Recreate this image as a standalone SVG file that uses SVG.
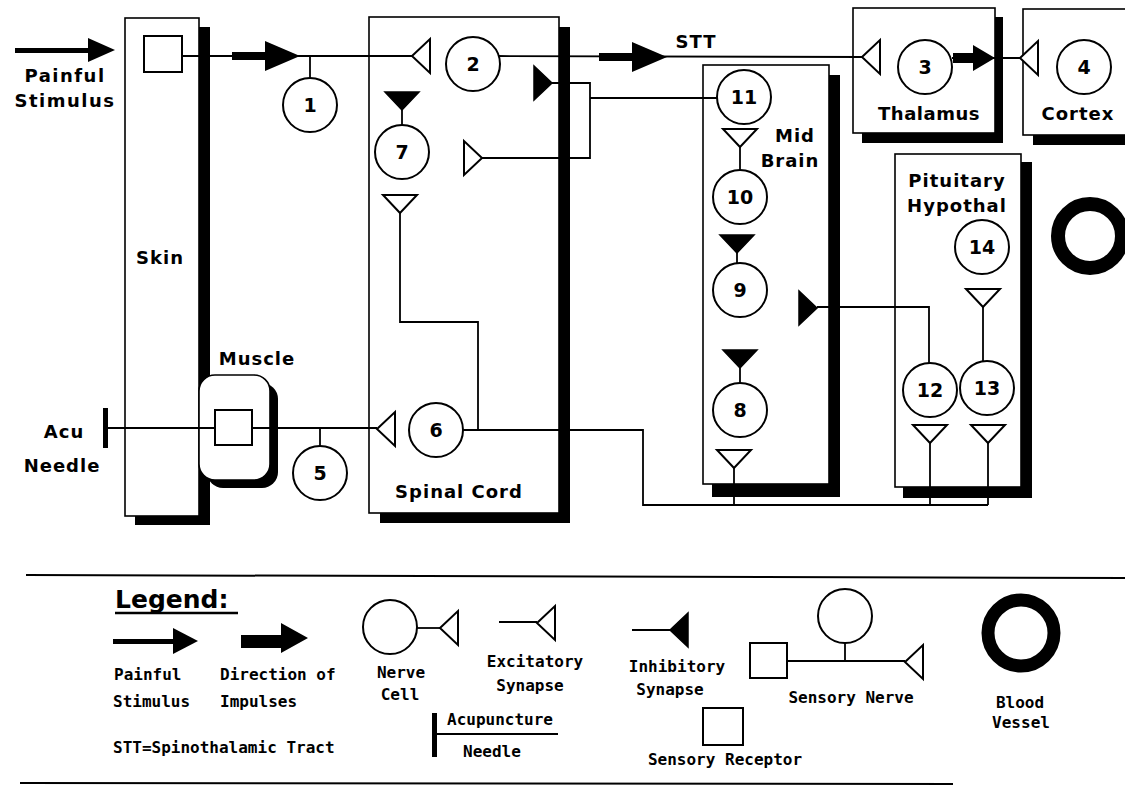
<svg xmlns="http://www.w3.org/2000/svg" width="1125" height="788" viewBox="0 0 1125 788">
<style>
.box{fill:#fff;stroke:#000;stroke-width:1.6}
.sh{fill:#000}
.ln{fill:none;stroke:#000;stroke-width:1.8}
.cell{fill:#fff;stroke:#000;stroke-width:2}
.ex{fill:#fff;stroke:#000;stroke-width:2;stroke-linejoin:miter}
.inh{fill:#000;stroke:#000;stroke-width:1.5}
.blk{fill:#000}
.lbl{font-family:"DejaVu Sans",sans-serif;font-weight:bold;font-size:18px;letter-spacing:1px;text-anchor:middle;fill:#000}
.num{font-family:"DejaVu Sans",sans-serif;font-weight:bold;font-size:19px;text-anchor:middle;fill:#000}
.lg{font-family:"DejaVu Sans Mono","Liberation Mono",monospace;font-weight:bold;font-size:16px;fill:#000}
.mid{text-anchor:middle}
</style>
<defs>
<path id="ex" d="M0,0 L18,-17 L18,17 Z"/>
<path id="thick" d="M-68,-4 L-35,-4 L-35,-15 L0,0 L-35,15 L-35,4 L-68,4 Z"/>
</defs>

<!-- regions -->
<g id="skin">
<rect class="sh" x="135" y="27" width="75" height="498"/>
<rect class="box" x="125" y="18" width="74" height="498"/>
<text class="lbl" x="160" y="264">Skin</text>
</g>
<g id="muscle">
<rect class="sh" x="207" y="383" width="71" height="105" rx="16"/>
<rect class="box" x="199" y="375" width="71" height="105" rx="16"/>
<text class="lbl" x="257" y="365">Muscle</text>
</g>
<g id="spinal-cord">
<rect class="sh" x="380" y="27" width="190" height="496"/>
<rect class="box" x="369" y="17" width="190" height="496"/>
<text class="lbl" x="459" y="498">Spinal Cord</text>
</g>
<g id="mid-brain">
<rect class="sh" x="712" y="75" width="128" height="422"/>
<rect class="box" x="703" y="65" width="126" height="419"/>
<text class="lbl" x="795" y="142">Mid</text>
<text class="lbl" x="790" y="167">Brain</text>
</g>
<g id="thalamus">
<rect class="sh" x="862" y="17" width="141" height="126"/>
<rect class="box" x="853" y="8" width="142" height="125"/>
<text class="lbl" x="929" y="120" style="letter-spacing:0.5px">Thalamus</text>
</g>
<g id="cortex">
<rect class="sh" x="1033" y="19" width="120" height="126"/>
<rect class="box" x="1023" y="9" width="120" height="126"/>
<text class="lbl" x="1078" y="120">Cortex</text>
</g>
<g id="pituitary-hypothal">
<rect class="sh" x="903" y="162" width="129" height="336"/>
<rect class="box" x="895" y="154" width="126" height="333"/>
<text class="lbl" x="957" y="187">Pituitary</text>
<text class="lbl" x="957" y="212">Hypothal</text>
</g>

<!-- connectors -->
<g id="connectors">
<!-- painful stimulus input -->
<rect class="blk" x="15" y="48" width="76" height="5"/>
<path class="blk" d="M88,38 L115,50 L88,62 Z"/>
<!-- receptor to spinal cord -->
<line class="ln" x1="182" y1="56" x2="412" y2="56"/>
<line class="ln" x1="310" y1="56" x2="310" y2="78"/>
<use href="#thick" class="blk" transform="translate(300,56)"/>
<use href="#ex" class="ex" transform="translate(412,56)"/>
<!-- STT -->
<line class="ln" x1="498" y1="56" x2="862" y2="57"/>
<use href="#thick" class="blk" transform="translate(667,57)"/>
<use href="#ex" class="ex" transform="translate(862,57)"/>
<!-- thalamus to cortex -->
<line class="ln" x1="952" y1="58" x2="1020" y2="58"/>
<path class="blk" d="M953,53 L973,53 L973,45 L995,58 L973,71 L973,63 L953,63 Z"/>
<use href="#ex" class="ex" transform="translate(1020,58)"/>
<!-- node 11 descending to spinal cord -->
<polyline class="ln" points="717,98 590,98"/>
<polyline class="ln" points="552,83 590,83 590,158 482,158"/>
<use href="#ex" class="inh" transform="translate(552,83) scale(-1,1)"/>
<use href="#ex" class="ex" transform="translate(482,158) scale(-1,1)"/>
<!-- node 7 -->
<use href="#ex" class="inh" transform="translate(402,110) rotate(-90)"/>
<line class="ln" x1="402" y1="110" x2="402" y2="125"/>
<use href="#ex" class="ex" transform="translate(400,213) rotate(-90)"/>
<polyline class="ln" points="400,213 400,322 478,322 478,430"/>
<!-- acupuncture needle -->
<rect class="blk" x="103" y="408" width="5" height="40"/>
<line class="ln" x1="106" y1="428" x2="233" y2="428"/>
<line class="ln" x1="252" y1="428" x2="377" y2="428"/>
<line class="ln" x1="320" y1="428" x2="320" y2="446"/>
<use href="#ex" class="ex" transform="translate(377,429)"/>
<!-- node 6 ascending -->
<polyline class="ln" points="463,430 643,430 643,505 988,505"/>
<line class="ln" x1="734" y1="468" x2="734" y2="505"/>
<line class="ln" x1="930" y1="443" x2="930" y2="505"/>
<line class="ln" x1="988" y1="443" x2="988" y2="505"/>
<use href="#ex" class="ex" transform="translate(734,468) rotate(-90)"/>
<use href="#ex" class="ex" transform="translate(930,443) rotate(-90)"/>
<use href="#ex" class="ex" transform="translate(988,443) rotate(-90)"/>
<!-- midbrain chain -->
<use href="#ex" class="ex" transform="translate(740,147) rotate(-90)"/>
<line class="ln" x1="740" y1="147" x2="740" y2="170"/>
<use href="#ex" class="inh" transform="translate(737,253) rotate(-90)"/>
<line class="ln" x1="737" y1="253" x2="737" y2="263"/>
<use href="#ex" class="inh" transform="translate(740,368) rotate(-90)"/>
<line class="ln" x1="740" y1="368" x2="740" y2="383"/>
<!-- midbrain to pituitary node 12 -->
<polyline class="ln" points="817,307 929,307 929,363"/>
<use href="#ex" class="inh" transform="translate(817,308) scale(-1,1)"/>
<!-- node 14 to 13 -->
<use href="#ex" class="ex" transform="translate(983,307) rotate(-90)"/>
<line class="ln" x1="983" y1="307" x2="983" y2="361"/>
</g>

<!-- nerve cells -->
<g id="n1"><circle class="cell" cx="310" cy="105" r="27"/><text class="num" x="310" y="112">1</text></g>
<g id="n2"><circle class="cell" cx="473" cy="64" r="27"/><text class="num" x="473" y="71">2</text></g>
<g id="n3"><circle class="cell" cx="925" cy="67" r="27"/><text class="num" x="925" y="74">3</text></g>
<g id="n4"><circle class="cell" cx="1084" cy="67" r="27"/><text class="num" x="1084" y="74">4</text></g>
<g id="n5"><circle class="cell" cx="320" cy="473" r="27"/><text class="num" x="320" y="480">5</text></g>
<g id="n6"><circle class="cell" cx="436" cy="430" r="27"/><text class="num" x="436" y="437">6</text></g>
<g id="n7"><circle class="cell" cx="402" cy="152" r="27"/><text class="num" x="402" y="159">7</text></g>
<g id="n8"><circle class="cell" cx="740" cy="410" r="27"/><text class="num" x="740" y="417">8</text></g>
<g id="n9"><circle class="cell" cx="740" cy="290" r="27"/><text class="num" x="740" y="297">9</text></g>
<g id="n10"><circle class="cell" cx="740" cy="197" r="27"/><text class="num" x="740" y="204">10</text></g>
<g id="n11"><circle class="cell" cx="744" cy="97" r="27"/><text class="num" x="744" y="104">11</text></g>
<g id="n12"><circle class="cell" cx="930" cy="390" r="27"/><text class="num" x="930" y="397">12</text></g>
<g id="n13"><circle class="cell" cx="987" cy="388" r="27"/><text class="num" x="987" y="395">13</text></g>
<g id="n14"><circle class="cell" cx="982" cy="247" r="27"/><text class="num" x="982" y="254">14</text></g>

<g id="receptors">
<rect class="box" x="144" y="36" width="38" height="36" style="stroke-width:2"/>
<rect class="box" x="215" y="410" width="37" height="35" style="stroke-width:2"/>
</g>

<g id="stimulus-labels">
<text class="lbl" x="65" y="82" style="letter-spacing:1.5px">Painful</text>
<text class="lbl" x="65" y="107" style="letter-spacing:1.5px">Stimulus</text>
<text class="lbl" x="64" y="438">Acu</text>
<text class="lbl" x="62" y="472">Needle</text>
<text class="lbl" x="696" y="48">STT</text>
</g>

<g id="blood-vessel">
<circle cx="1090" cy="236" r="32" fill="none" stroke="#000" stroke-width="14"/>
</g>

<!-- legend -->
<g id="legend">
<line x1="26" y1="575" x2="1125" y2="578" stroke="#000" stroke-width="2"/>
<line x1="20" y1="783" x2="953" y2="784" stroke="#000" stroke-width="2"/>
<text x="115" y="608" style="font-family:'DejaVu Sans',sans-serif;font-weight:bold;font-size:25px">Legend:</text>
<line x1="115" y1="613" x2="238" y2="613" stroke="#000" stroke-width="2.5"/>

<rect class="blk" x="113" y="639" width="62" height="5"/>
<path class="blk" d="M173,628 L198,641 L173,654 Z"/>
<text class="lg" x="114" y="680">Painful</text>
<text class="lg" x="113" y="707">Stimulus</text>

<path class="blk" d="M241,635 L281,635 L281,623 L308,638 L281,653 L281,648 L241,648 Z"/>
<text class="lg" x="220" y="680">Direction of</text>
<text class="lg" x="220" y="707">Impulses</text>

<text class="lg" x="113" y="753">STT=Spinothalamic Tract</text>

<circle class="cell" cx="390" cy="627" r="27"/>
<line class="ln" x1="417" y1="628" x2="440" y2="628"/>
<use href="#ex" class="ex" transform="translate(440,628)"/>
<text class="lg mid" x="401" y="678">Nerve</text>
<text class="lg mid" x="400" y="700">Cell</text>

<line class="ln" x1="499" y1="622" x2="537" y2="622"/>
<use href="#ex" class="ex" transform="translate(537,623)"/>
<text class="lg mid" x="535" y="667">Excitatory</text>
<text class="lg mid" x="530" y="691">Synapse</text>

<line class="ln" x1="632" y1="630" x2="670" y2="630"/>
<use href="#ex" class="inh" transform="translate(670,630)"/>
<text class="lg mid" x="677" y="672">Inhibitory</text>
<text class="lg mid" x="670" y="695">Synapse</text>

<rect class="blk" x="432" y="713" width="5" height="44"/>
<line class="ln" x1="435" y1="734" x2="558" y2="734"/>
<text class="lg" x="447" y="725">Acupuncture</text>
<text class="lg" x="463" y="757">Needle</text>

<rect class="box" x="703" y="708" width="40" height="37" style="stroke-width:2"/>
<text class="lg mid" x="725" y="765">Sensory Receptor</text>

<rect class="box" x="750" y="643" width="37" height="35" style="stroke-width:2"/>
<line class="ln" x1="787" y1="661" x2="905" y2="661"/>
<line class="ln" x1="845" y1="643" x2="845" y2="661"/>
<circle class="cell" cx="845" cy="616" r="27"/>
<use href="#ex" class="ex" transform="translate(905,662)"/>
<text class="lg mid" x="851" y="703">Sensory Nerve</text>

<circle cx="1021" cy="633" r="33" fill="none" stroke="#000" stroke-width="13"/>
<text class="lg mid" x="1020" y="708">Blood</text>
<text class="lg mid" x="1021" y="728">Vessel</text>
</g>
</svg>
